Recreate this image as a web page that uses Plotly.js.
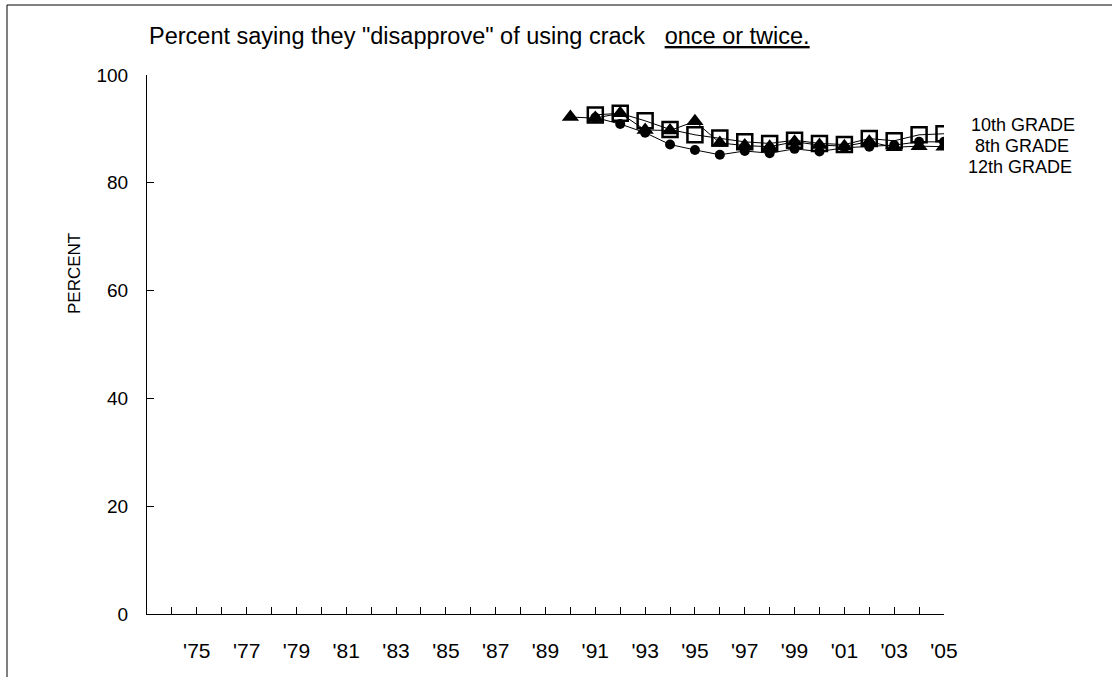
<!DOCTYPE html>
<html>
<head>
<meta charset="utf-8">
<script src="https://cdn.plot.ly/plotly-3.0.1.min.js"></script>
<style>
html,body{margin:0;padding:0;background:#fff;}
#chart{width:1112px;height:677px;}
</style>
</head>
<body>
<div id="chart"></div>
<script>
// Data
const years8_10 = [1991,1992,1993,1994,1995,1996,1997,1998,1999,2000,2001,2002,2003,2004,2005];
const years12 = [1990,1991,1992,1993,1994,1995,1996,1997,1998,1999,2000,2001,2002,2003,2004,2005];
const grade8 = [92.1,90.9,89.3,87.1,86.1,85.2,85.9,85.5,86.3,85.8,86.5,86.7,87.0,87.6,87.6];
const grade10 = [92.6,92.9,91.5,89.9,88.9,88.3,87.6,87.3,87.9,87.3,87.1,88.2,87.8,88.9,89.1];
const grade12 = [92.2,92.0,92.9,89.8,89.7,91.4,87.4,86.9,86.7,87.6,87.0,86.8,87.6,86.6,86.8,86.7];
const xTickVals = [1975,1977,1979,1981,1983,1985,1987,1989,1991,1993,1995,1997,1999,2001,2003,2005];
const xTickText = ["'75","'77","'79","'81","'83","'85","'87","'89","'91","'93","'95","'97","'99","'01","'03","'05"];
const xMinorVals = [1974,1976,1978,1980,1982,1984,1986,1988,1990,1992,1994,1996,1998,2000,2002,2004];
const yTickVals = [0,20,40,60,80,100];
const seriesLabels = ["10th GRADE","8th GRADE","12th GRADE"];

const font = "Liberation Sans, Arial, sans-serif";

const traces = [
  {x: years8_10, y: grade8, name: '8th GRADE', type: 'scatter', mode: 'lines+markers',
   line: {color: '#000', width: 1}, marker: {symbol: 'circle', size: 10, color: '#000'}},
  {x: years8_10, y: grade10, name: '10th GRADE', type: 'scatter', mode: 'lines+markers',
   line: {color: '#000', width: 1}, marker: {symbol: 'square-open', size: 15, color: '#000', line: {width: 2.5, color: '#000'}}},
  {x: years12, y: grade12, name: '12th GRADE', type: 'scatter', mode: 'lines+markers',
   line: {color: '#000', width: 1}, marker: {symbol: 'triangle-up', size: 15, color: '#000'}}
];

const L = 147, R = 168, T = 75, B = 63;
const W = 1112 - L - R, H = 677 - T - B;
const px = v => (v - L) / W;
const py = v => (677 - B - v) / H;

const layout = {
  width: 1112, height: 677,
  margin: {l: L, r: R, t: T, b: B, pad: 0},
  paper_bgcolor: '#fff', plot_bgcolor: '#fff',
  showlegend: false,
  font: {family: font, size: 16, color: '#000'},
  xaxis: {
    range: [1973, 2005], tickvals: xTickVals, ticktext: xTickText,
    ticks: 'inside', ticklen: 7, tickwidth: 1, tickcolor: '#000',
    showline: true, linecolor: '#000', linewidth: 1, showgrid: false, zeroline: false,
    ticklabelstandoff: 18,
    minor: {tickvals: xMinorVals, ticks: 'inside', ticklen: 7, tickcolor: '#000', tickwidth: 1, showgrid: false},
    tickfont: {family: font, size: 21, color: '#000'}
  },
  yaxis: {
    range: [0, 100], tickvals: yTickVals,
    ticks: 'inside', ticklen: 7, tickwidth: 1, tickcolor: '#000',
    showline: true, linecolor: '#000', linewidth: 1, showgrid: false, zeroline: false,
    ticklabelstandoff: 14,
    tickfont: {family: font, size: 19, color: '#000'}
  },
  annotations: [
    {xref: 'paper', yref: 'paper', x: px(147), y: py(36), xanchor: 'left', yanchor: 'middle',
     text: 'Percent saying they "disapprove" of using crack   <u>once or twice.</u>', showarrow: false,
     font: {family: font, size: 23.5, color: '#000'}},
    {xref: 'paper', yref: 'paper', x: px(74), y: py(274), xanchor: 'center', yanchor: 'middle', textangle: -90,
     text: 'PERCENT', showarrow: false, font: {family: font, size: 17, color: '#000'}},
    {xref: 'paper', yref: 'paper', x: px(1023), y: py(125), xanchor: 'center', yanchor: 'middle', borderpad: 0,
     text: seriesLabels[0], showarrow: false, font: {family: font, size: 18, color: '#000'}},
    {xref: 'paper', yref: 'paper', x: px(1022), y: py(146), xanchor: 'center', yanchor: 'middle', borderpad: 0,
     text: seriesLabels[1], showarrow: false, font: {family: font, size: 18, color: '#000'}},
    {xref: 'paper', yref: 'paper', x: px(1020), y: py(167), xanchor: 'center', yanchor: 'middle', borderpad: 0,
     text: seriesLabels[2], showarrow: false, font: {family: font, size: 18, color: '#000'}}
  ],
  shapes: [
    {type: 'line', xref: 'paper', yref: 'paper', x0: px(7), x1: px(1130), y0: py(5), y1: py(5), line: {color: '#000', width: 1}},
    {type: 'line', xref: 'paper', yref: 'paper', x0: px(7), x1: px(7), y0: py(5), y1: py(700), line: {color: '#000', width: 1}}
  ]
};

Plotly.newPlot('chart', traces, layout, {displayModeBar: false, staticPlot: true});
</script>
</body>
</html>
